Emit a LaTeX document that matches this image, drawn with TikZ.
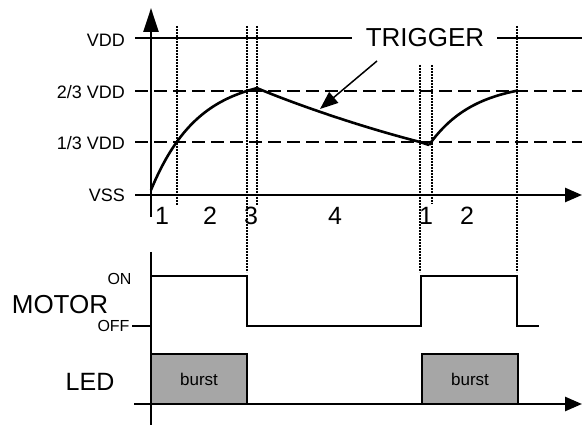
\documentclass[tikz,border=0pt]{standalone}
\usepackage{fontspec}
\setmainfont{Liberation Sans}
\usetikzlibrary{arrows.meta}
\definecolor{boxgray}{RGB}{166,166,166}
\tikzset{
  bigtxt/.style={font=\fontsize{25}{30}\selectfont, inner sep=0pt},
  smalltxt/.style={font=\fontsize{18}{21}\selectfont, inner sep=0pt},
  tinytxt/.style={font=\fontsize{16}{19}\selectfont, inner sep=0pt},
  axisline/.style={line width=2.6pt},
  sigline/.style={line width=1.5pt},
  levelline/.style={line width=2.6pt, dash pattern=on 13pt off 6pt},
  markline/.style={line width=2.2pt, dash pattern=on 2pt off 1pt},
  curveline/.style={line width=2.6pt, line join=round},
  burstbox/.style={draw, line width=1.5pt, fill=boxgray},
  bigtip/.style={-{Triangle[length=24pt,width=15pt]}},
  axtip/.style={-{Triangle[length=17pt,width=14pt]}},
  trigtip/.style={-{Triangle[length=18pt,width=14pt]}}
}
\begin{document}
\begin{tikzpicture}[x=1pt,y=-1pt]
\useasboundingbox (0,0) rectangle (582,425);
% named points
\coordinate (yb) at (151,217);
\coordinate (yt) at (151,8);
\coordinate (xl) at (135,195);
\coordinate (xr) at (582,195);
\coordinate (lyb) at (151,425);
\coordinate (lyt) at (151,252);
\coordinate (lxl) at (134,404);
\coordinate (lxr) at (582,404);
% level labels
\node[smalltxt, anchor=base east] (vdd) at (125,46.5) {VDD};
\node[smalltxt, anchor=base east] (twothird) at (125,99) {2/3 VDD};
\node[smalltxt, anchor=base east] (onethird) at (125,150) {1/3 VDD};
\node[smalltxt, anchor=base east] (vss) at (125,201.5) {VSS};
\node[font=\fontsize{26}{30}\selectfont, inner sep=0pt, anchor=base] (trig) at (425,46.7) {TRIGGER};
% level lines
\draw[sigline] (135,38) -- (352,38);
\draw[sigline] (497,38) -- (582,38);
\draw[levelline] (135,91) -- (582,91);
\draw[levelline] (135,142) -- (582,142);
% marker lines
\draw[markline] (177,26) -- (177,205);
\draw[markline] (247,26) -- (247,272);
\draw[markline] (257,26) -- (257,205);
\draw[markline] (420,65) -- (420,272);
\draw[markline] (432,65) -- (432,204);
\draw[markline] (517,26) -- (517,272);
% axes
\draw[axisline, bigtip] (yb) -- (yt);
\draw[axisline, axtip] (xl) -- (xr);
\draw[axisline] (lyt) -- (lyb);
% capacitor voltage curve
\draw[curveline] plot[domain=151:257, samples=50] (\x, {190-113.8*(1-exp(-(\x-151)/47))})
  .. controls (285,100) and (350,124) .. (420,142)
  -- (429,145)
  plot[domain=429:517, samples=40] (\x, {145-63.2*(1-exp(-(\x-429)/45))});
% trigger arrow
\coordinate (trigtail) at (377,61);
\coordinate (trighead) at (320,109);
\draw[sigline, trigtip] (trigtail) -- (trighead);
% phase numbers
\node[bigtxt, anchor=base] (p1) at (162,225) {1};
\node[bigtxt, anchor=base] (p2) at (210,225) {2};
\node[bigtxt, anchor=base] (p3) at (251,225) {3};
\node[bigtxt, anchor=base] (p4) at (335,225) {4};
\node[bigtxt, anchor=base] (p5) at (426,225) {1};
\node[bigtxt, anchor=base] (p6) at (467,225) {2};
% motor
\node[font=\fontsize{26}{30}\selectfont, inner sep=0pt, anchor=base] (motor) at (60,313) {MOTOR};
\node[tinytxt, anchor=base] (on) at (119.5,285) {ON};
\node[tinytxt, anchor=base] (off) at (113.5,331.7) {OFF};
\draw[sigline] (132,326) -- (151,326);
\draw[sigline] (151,276) -- (247,276) -- (247,326) -- (421,326) -- (421,276) -- (517,276) -- (517,326) -- (539,326);
% LED
\node[bigtxt, anchor=base] (led) at (90,390) {LED};
\draw[burstbox] (151,354) rectangle (247,404);
\draw[burstbox] (422,354) rectangle (518,404);
\node[font=\fontsize{17}{20}\selectfont, inner sep=0pt, anchor=base] (b1) at (199,385.5) {burst};
\node[font=\fontsize{17}{20}\selectfont, inner sep=0pt, anchor=base] (b2) at (470,385.5) {burst};
\draw[axisline, axtip] (lxl) -- (lxr);
\end{tikzpicture}
\end{document}
